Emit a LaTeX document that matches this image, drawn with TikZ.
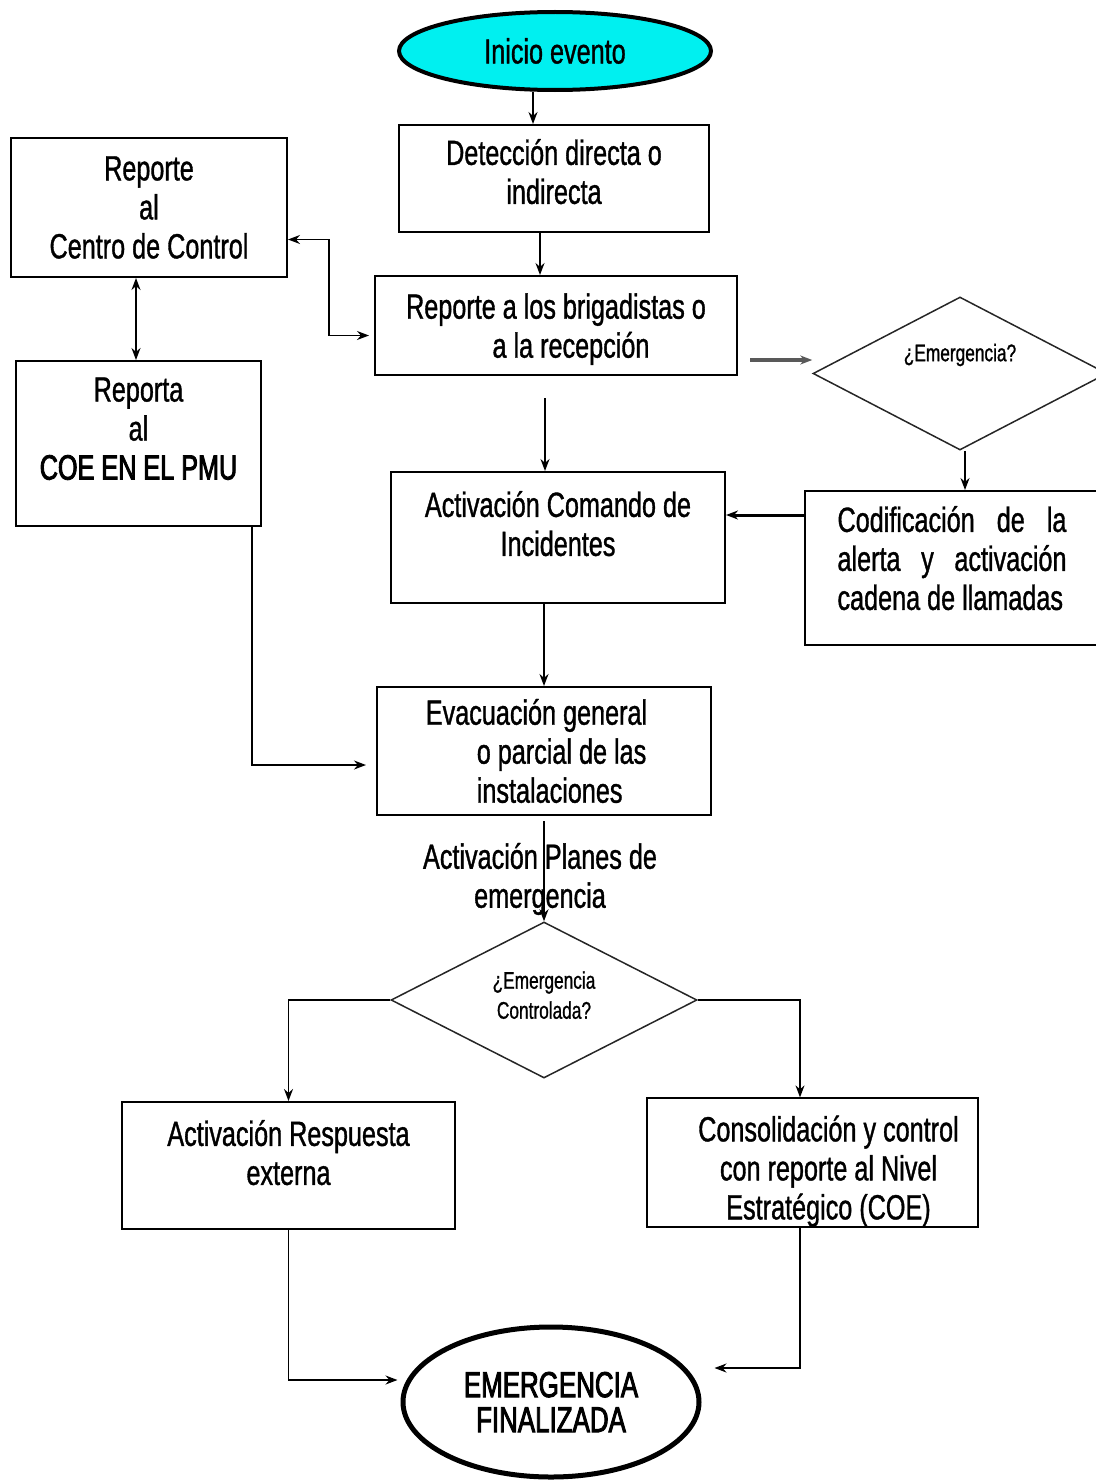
\documentclass[tikz,border=0pt]{standalone}
\usepackage{fontspec}
\setmainfont[FakeStretch=0.72,FakeBold=1]{Liberation Sans}
\newfontfamily\gruesa[FakeStretch=0.72,FakeBold=2.5]{Liberation Sans}
\usetikzlibrary{shapes}
\usetikzlibrary{arrows.meta}
\definecolor{celeste}{RGB}{0,240,240}

\begin{document}
\begin{tikzpicture}[x=1pt,y=-1pt,
every node/.style={font=\fontsize{35}{39}\selectfont,align=center}]
\tikzstyle{enlace}=[->,>={Stealth[length=12pt,width=9pt]},line width=1.5pt]
\tikzset{caja/.style 2 args={draw,line width=2pt,inner sep=0pt,minimum width=#1,minimum height=#2},
rombo/.style={draw=black!85,diamond,shape aspect=2,line width=1.5pt,inner sep=0pt,font=\fontsize{24}{30}\selectfont},
terminal/.style={draw,ellipse,line width=#1,inner sep=0pt},
terminal/.default={4pt}}
\useasboundingbox (0,0) rectangle (1095,1480);

\node[terminal,fill=celeste,minimum width=312pt,minimum height=78pt] (inicio) at (555,51) {Inicio evento};
\node[caja={310pt}{107pt},text depth=14pt] (deteccion) at (554,178.5) {Detección directa o\\indirecta};
\node[caja={276pt}{139pt}] (centro) at (149,207.5) {Reporte\\al\\Centro de Control};
\node[caja={362pt}{99pt},text depth=0pt] (brigada) at (556,325.5) {Reporte a los brigadistas o\\\hspace*{30pt}a la recepción};
\node[rombo,minimum width=294pt,minimum height=153pt,text depth=42pt] (emergencia) at (960,373.5) {¿Emergencia?};
\node[caja={245pt}{165pt},text depth=30pt] (coe) at (138.5,443.5) {Reporta\\al\\{\gruesa COE EN EL PMU}};
\node[caja={334pt}{131pt},text depth=28pt] (comando) at (558,537.5) {Activación Comando de\\Incidentes};
\node[caja={294pt}{154pt},text depth=20pt] (codificacion) at (952,568)
  {\makebox[229pt]{Codificación\hfill de\hfill la}\\\makebox[229pt]{alerta\hfill y\hfill activación}\\\makebox[229pt][l]{cadena de llamadas}};
\node[caja={334pt}{128pt},align=left] (evacuacion) at (544,751)
  {Evacuación general\hspace*{15pt}\\\hspace*{51pt}o parcial de las\\\hspace*{51pt}instalaciones};
\node (planes) at (540,879) {Activación Planes de\\emergencia};
\node[rombo,minimum width=306pt,minimum height=156pt,text depth=10pt] (control) at (544,1000) {¿Emergencia\\Controlada?};
\node[caja={333pt}{127pt},text depth=26pt] (respuesta) at (288.5,1165.5) {Activación Respuesta\\externa};
\node[caja={331pt}{127pt}] (consolidacion) at (812.5,1162.5)
  {\rule{0pt}{43pt}\hspace*{32pt}Consolidación y control\\\hspace*{32pt}con reporte al Nivel\\\hspace*{32pt}Estratégico (COE)};
\node[terminal=5pt,minimum width=296pt,minimum height=150pt,font=\fontsize{36}{35}\gruesa] (fin) at (551,1402) {EMERGENCIA\\FINALIZADA};

% conectores
\coordinate (b1) at ([xshift=12pt,yshift=-34.5pt]brigada.east);
\coordinate (c1) at ([yshift=53pt]codificacion.west);
\draw[enlace] ([xshift=-22pt]inicio.south) -- ([xshift=-21pt]deteccion.north);
\draw[enlace] ([xshift=-14pt]deteccion.south) -- ([xshift=-16pt]brigada.north);
\draw[enlace,<->] ([yshift=-32pt]centro.east) -| ++(41,0) |- ([xshift=-5pt,yshift=-10pt]brigada.west);
\draw[enlace,<->] ([xshift=-13pt]centro.south) -- ([xshift=-2.5pt]coe.north);
\draw[enlace,draw=black!65,fill=black!65,line width=4pt] (b1) -- (b1 -| emergencia.west);
\draw[enlace] ([xshift=-11pt,yshift=-22pt]brigada.south) -- ([xshift=-13pt]comando.north);
\draw[enlace] ([xshift=5pt]emergencia.south) -- ([xshift=13pt]codificacion.north);
\draw[enlace,line width=3pt] (c1) -- (c1 -| comando.east);
\draw[enlace] ([xshift=-14pt]comando.south) -- (evacuacion.north);
\draw[enlace] ([xshift=113.5pt]coe.south) |- ([xshift=-10pt,yshift=-14pt]evacuacion.west);
\draw[enlace] ([yshift=-5pt]evacuacion.south) -- (control.north);
\draw[enlace] (control.west) -| (respuesta.north);
\draw[enlace] (control.east) -| ([xshift=-12.5pt]consolidacion.north);
\draw[enlace] (respuesta.south) |- ([xshift=-3pt,yshift=22pt]fin.west);
\draw[enlace] ([xshift=-12.5pt]consolidacion.south) |- ([xshift=13pt,yshift=34pt]fin.east);
\end{tikzpicture}
\end{document}
